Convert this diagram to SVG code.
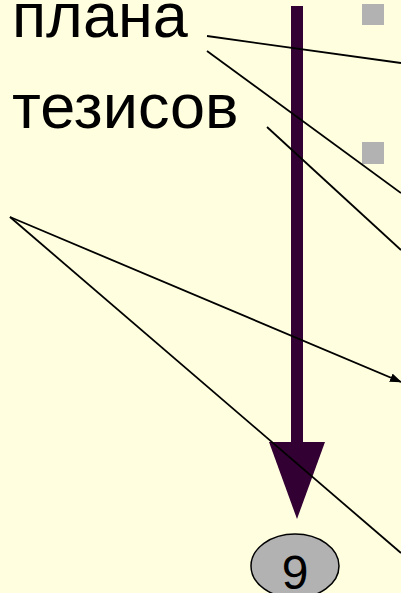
<svg xmlns="http://www.w3.org/2000/svg" width="401" height="593" viewBox="0 0 401 593">
<style>
.lbl{font-family:"Liberation Sans",Arial,sans-serif;fill:#000}
.ln{stroke:#000;stroke-width:1.8;fill:none}
.sq{fill:#B2B2B2}
</style>
<defs>
<marker id="ah" markerWidth="12" markerHeight="9" refX="11" refY="4.5" orient="auto" markerUnits="userSpaceOnUse">
<path d="M0,0 L12,4.5 L0,9 Z" fill="#000"/>
</marker>
</defs>
<rect width="401" height="593" fill="#FFFFE0"/>
<g id="label-plana"><text class="lbl" x="12" y="37" font-size="63">плана</text></g>
<g id="label-tezisov"><text class="lbl" x="12" y="128" font-size="63">тезисов</text></g>
<g id="bullet1"><rect class="sq" x="362" y="4" width="22" height="21"/></g>
<g id="bullet2"><rect class="sq" x="362" y="142" width="22" height="22"/></g>
<g id="big-arrow">
<rect x="291" y="6" width="12" height="437" fill="#330033"/>
<polygon points="269,442 325,442 297,519" fill="#330033"/>
</g>
<g id="page-num">
<ellipse cx="295" cy="566" rx="44" ry="32" fill="#B2B2B2" stroke="#000" stroke-width="1.5"/>
<text class="lbl" x="295" y="589" font-size="48" text-anchor="middle">9</text>
</g>
<g id="connectors">
<line class="ln" x1="207" y1="36" x2="401" y2="63"/>
<line class="ln" x1="207" y1="51" x2="401" y2="193"/>
<line class="ln" x1="267" y1="127" x2="401" y2="250"/>
<line class="ln" x1="10" y1="217" x2="401" y2="382" marker-end="url(#ah)"/>
<line class="ln" x1="10" y1="217" x2="401" y2="553"/>
</g>
</svg>
